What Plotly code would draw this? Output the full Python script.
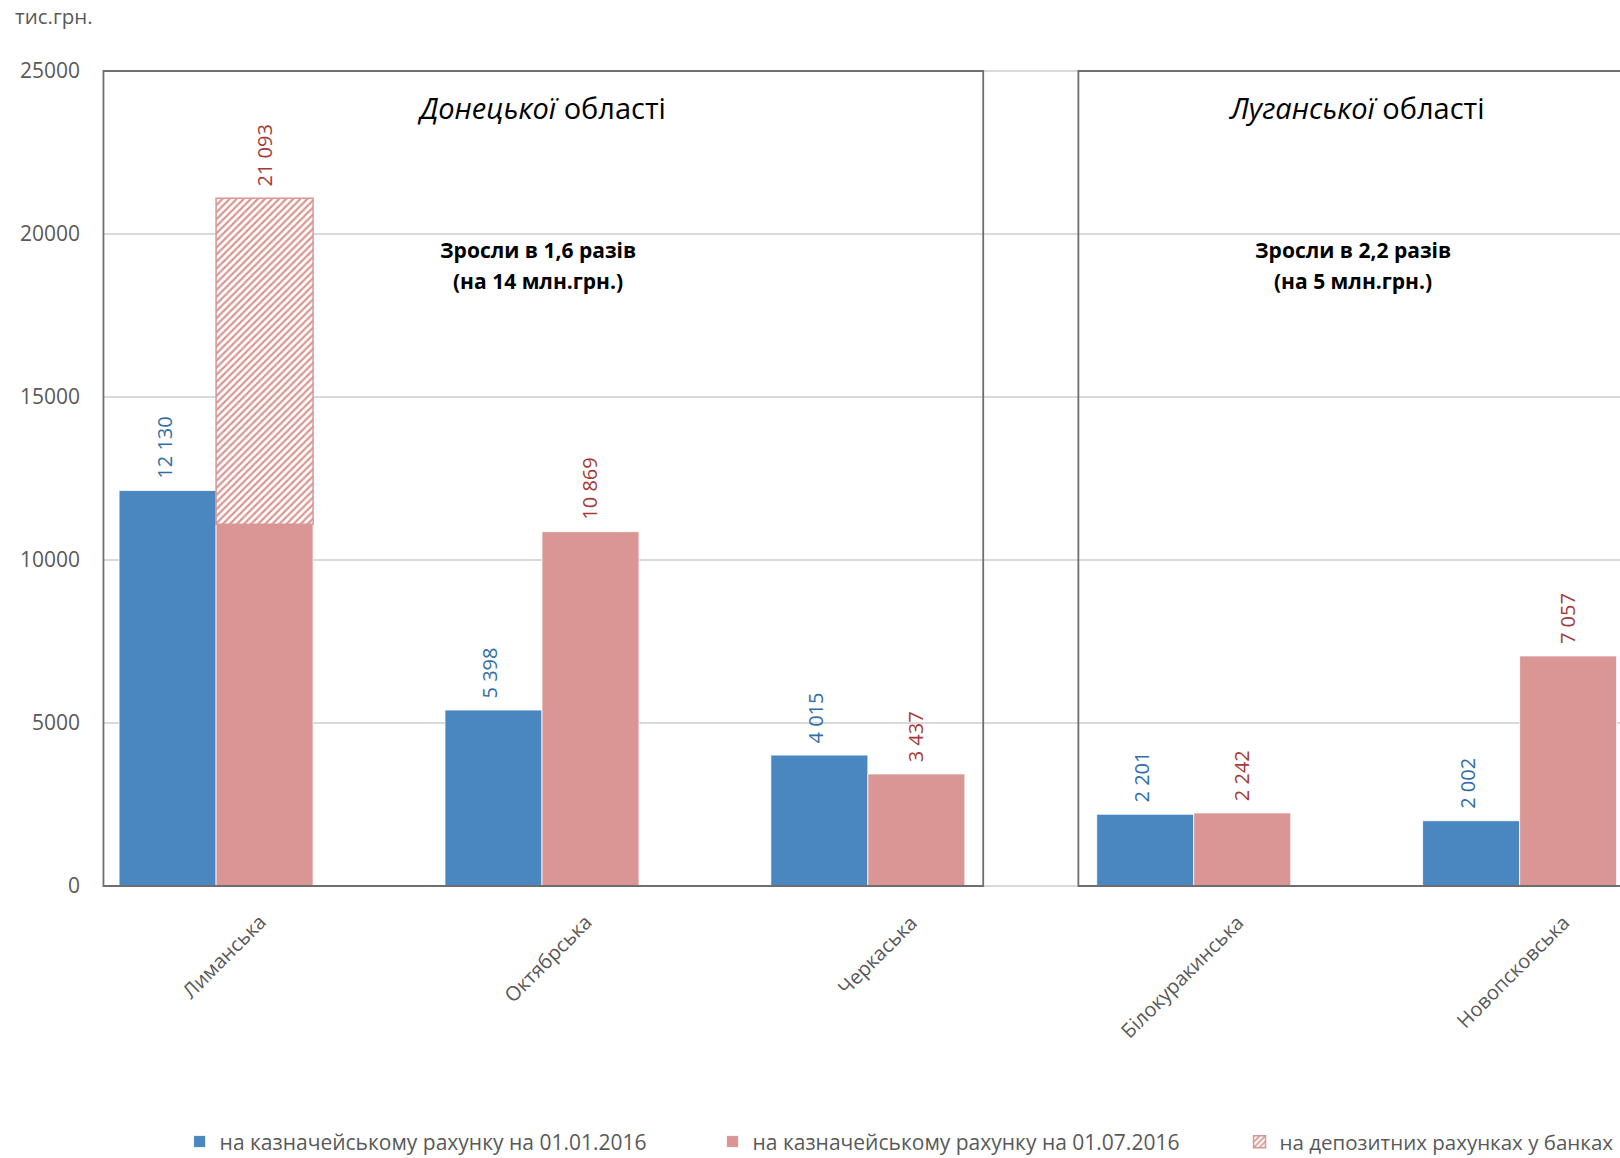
import plotly.graph_objects as go

# ---------------- data ----------------
categories = ["Лиманська", "Октябрська", "Черкаська", "Білокуракинська", "Новопсковська"]
treasury_2016_01 = [12130, 5398, 4015, 2201, 2002]
treasury_2016_07 = [11093, 10869, 3437, 2242, 7057]
deposits_2016_07 = [10000, None, None, None, None]
series_names = [
    "на казначейському рахунку на 01.01.2016",
    "на казначейському рахунку на 01.07.2016",
    "на депозитних рахунках у банках",
]
y_ticks = [0, 5000, 10000, 15000, 20000, 25000]
y_tick_text = ["0", "5000", "10000", "15000", "20000", "25000"]
region_names = ["Донецької", "Луганської"]
region_notes = [["Зросли в 1,6 разів", "(на 14 млн.грн.)"], ["Зросли в 2,2 разів", "(на 5 млн.грн.)"]]
unit_label = "тис.грн."

# ---------------- style ----------------
FONT = "Open Sans"
BLUE = "#4a86bf"
PINK = "#d99694"
BLUE_TXT = "#336ea8"
RED_TXT = "#a63a38"
GRAY_TXT = "#595959"
BOX = "#6e6e6e"
GRID = "#d9d9d9"

W = 0.2977
XR = [-0.347, 4.308]
xs = list(range(len(categories)))
totals = [a + (b or 0) for a, b in zip(treasury_2016_07, deposits_2016_07)]


def fmt(v):
    return f"{v:,}".replace(",", " ")


def px(v):
    return (v - XR[0]) / (XR[1] - XR[0])


fig = go.Figure()
fig.add_trace(go.Bar(
    x=xs, y=treasury_2016_01, name=series_names[0], width=W, offset=-W, legend="legend",
    marker=dict(color=BLUE, line=dict(color="white", width=0.8)),
))
fig.add_trace(go.Bar(
    x=xs, y=treasury_2016_07, name=series_names[1], width=W, offset=0, legend="legend2",
    marker=dict(color=PINK, line=dict(color="white", width=0.8)),
))
fig.add_trace(go.Bar(
    x=xs, y=deposits_2016_07, base=treasury_2016_07, name=series_names[2], width=W, offset=0,
    legend="legend3",
    marker=dict(color=PINK, line=dict(color=PINK, width=1.5),
                pattern=dict(shape="/", fgcolor=PINK, bgcolor="white", size=5, solidity=0.45,
                             fillmode="replace")),
))

annotations = []
# data labels
for i, v in enumerate(treasury_2016_01):
    annotations.append(dict(x=xs[i], y=v, xref="x", yref="y", text=fmt(v), textangle=-90,
                            showarrow=False, yanchor="bottom", xanchor="center", xshift=-52, yshift=10,
                            font=dict(family=FONT, size=20, color=BLUE_TXT)))
for i, v in enumerate(totals):
    annotations.append(dict(x=xs[i], y=v, xref="x", yref="y", text=fmt(v), textangle=-90,
                            showarrow=False, yanchor="bottom", xanchor="center", xshift=48, yshift=10,
                            font=dict(family=FONT, size=20, color=RED_TXT)))
# category labels
for i, c in enumerate(categories):
    annotations.append(dict(x=xs[i], y=0, xref="x", yref="y", text=c, textangle=-45,
                            showarrow=False, xanchor="right", yanchor="top", xshift=58, yshift=-20,
                            font=dict(family=FONT, size=20, color=GRAY_TXT)))
# region titles and notes
region_x = [1, 3.5]
for rx, rn, note in zip(region_x, region_names, region_notes):
    annotations.append(dict(x=rx, y=23880, xref="x", yref="y", text=f"<i>{rn}</i> області",
                            showarrow=False, xanchor="center", yanchor="middle",
                            font=dict(family=FONT, size=29, color="black")))
    for line_text, ly in zip(note, [19509, 18558]):
        annotations.append(dict(x=rx - 0.012, y=ly, xref="x", yref="y", text=f"<b>{line_text}</b>",
                                showarrow=False, xanchor="center", yanchor="middle",
                                font=dict(family=FONT, size=21, color="black")))
annotations.append(dict(x=-0.0595, y=1.068, xref="paper", yref="paper", text=unit_label,
                        showarrow=False, xanchor="left", yanchor="middle",
                        font=dict(family=FONT, size=20.5, color=GRAY_TXT)))

shapes = [
    # light gridline segments between the two boxes
    dict(type="line", xref="paper", yref="paper", x0=px(2.354), x1=px(2.646), y0=1, y1=1,
         line=dict(color=GRID, width=2), layer="below"),
    dict(type="line", xref="paper", yref="paper", x0=px(2.354), x1=px(2.646), y0=0, y1=0,
         line=dict(color=GRID, width=2), layer="below"),
    dict(type="rect", xref="paper", yref="paper", x0=px(XR[0]) + 0.0003, x1=px(2.354), y0=0, y1=1,
         line=dict(color=BOX, width=1.8), layer="above"),
    dict(type="rect", xref="paper", yref="paper", x0=px(2.646), x1=1.05, y0=0, y1=1,
         line=dict(color=BOX, width=1.8), layer="above"),
]

legend_common = dict(orientation="h", y=-0.314, yanchor="middle", xanchor="left",
                     bgcolor="rgba(0,0,0,0)")

fig.update_layout(
    width=1620, height=1158,
    margin=dict(l=103, r=0, t=71, b=272, autoexpand=False),
    plot_bgcolor="white", paper_bgcolor="white",
    barmode="overlay",
    font=dict(family=FONT, color=GRAY_TXT),
    xaxis=dict(range=XR, showticklabels=False, showgrid=False, zeroline=False, showline=False, ticks=""),
    yaxis=dict(range=[0, 25000], tickvals=y_ticks, ticktext=y_tick_text, showgrid=True,
               gridcolor=GRID, gridwidth=1.5,
               zeroline=False, showline=False, ticks="", ticklabelstandoff=22,
               tickfont=dict(family=FONT, size=21, color=GRAY_TXT)),
    showlegend=True,
    legend=dict(x=0.0505, font=dict(family=FONT, size=21, color=GRAY_TXT), **legend_common),
    legend2=dict(x=0.4018, font=dict(family=FONT, size=21, color=GRAY_TXT), **legend_common),
    legend3=dict(x=0.7492, font=dict(family=FONT, size=20.5, color=GRAY_TXT), **legend_common),
    annotations=annotations,
    shapes=shapes,
)

fig.write_html("out.html", config={"displayModeBar": False},
               post_script="document.body.style.margin='0';")
